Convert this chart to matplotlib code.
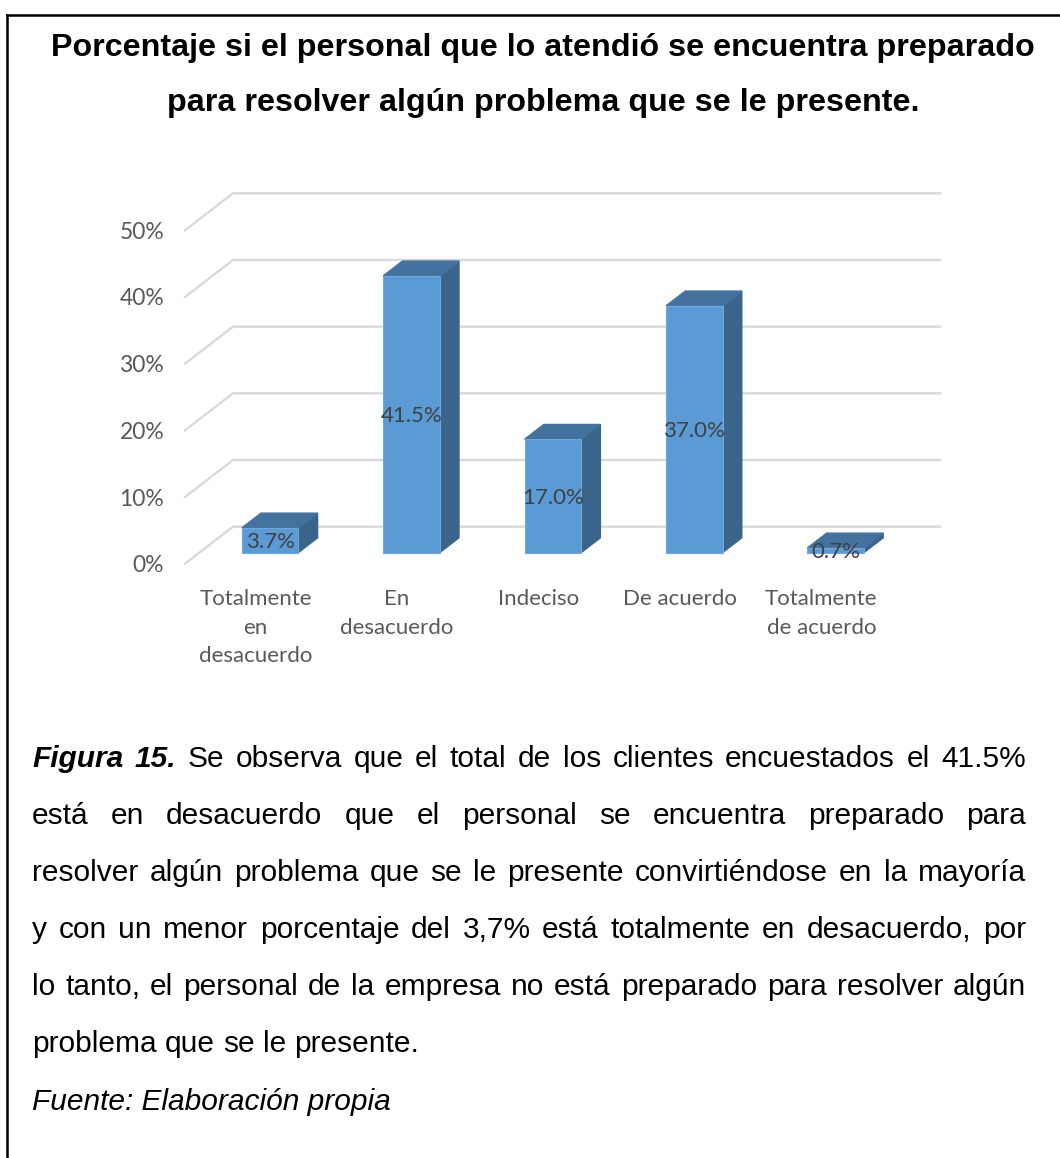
import matplotlib
matplotlib.use("Agg")
import matplotlib.pyplot as plt
from matplotlib.patches import Polygon
from matplotlib.lines import Line2D

# datos de la encuesta
categorias = ["Totalmente\nen\ndesacuerdo", "En\ndesacuerdo", "Indeciso",
              "De acuerdo", "Totalmente\nde acuerdo"]
porcentajes = [3.7, 41.5, 17.0, 37.0, 0.7]
niveles = [0, 10, 20, 30, 40, 50]
etiquetas_y = ["0%", "10%", "20%", "30%", "40%", "50%"]

titulo = ["Porcentaje si el personal que lo atendió se encuentra preparado",
          "para resolver algún problema que se le presente."]

parrafo = [
    "Figura 15. Se observa que el total de los clientes encuestados el 41.5%",
    "está en desacuerdo que el personal se encuentra preparado para",
    "resolver algún problema que se le presente convirtiéndose en la mayoría",
    "y con un menor porcentaje del 3,7% está totalmente en desacuerdo, por",
    "lo tanto, el personal de la empresa no está preparado para resolver algún",
    "problema que se le presente.",
]
fuente = "Fuente: Elaboración propia"

W, H = 1060, 1158
fig = plt.figure(figsize=(W / 100, H / 100), dpi=100)
fig.patch.set_facecolor("white")

# marco (solo arriba e izquierda)
fig.add_artist(Line2D([7 / W, 1], [1 - 15 / H, 1 - 15 / H], color="black", lw=1.8))
fig.add_artist(Line2D([7 / W, 7 / W], [0, 1 - 15 / H], color="black", lw=1.8))

# titulo
for k, linea in enumerate(titulo):
    fig.text(543 / W, 1 - (56 + 54.5 * k) / H, linea, ha="center", va="baseline",
             fontsize=23.2, fontweight="bold", family="Liberation Sans")

# ---- grafico de barras con efecto 3D ----
ax = fig.add_axes([185 / W, 1 - 563.7 / H, 707 / W, 333.4 / H])
ax.set_xlim(-0.5, 4.5)
ax.set_ylim(0, 50)
for s in ax.spines.values():
    s.set_visible(False)

ddx, ddy = 0.3395, 5.55      # desplazamiento de profundidad (piso completo)
f0, fd = 0.3, 0.4            # posicion y grosor de la barra en profundidad
ancho = 0.4

# lineas de cuadricula: pared izquierda + pared del fondo
for v in niveles:
    ax.plot([-0.5, -0.5 + ddx, 4.5 + ddx], [v, v + ddy, v + ddy],
            color="#D9D9D9", lw=1.7, clip_on=False, zorder=1)

c_frente, c_arriba, c_lado = "#5B9BD5", "#44729F", "#3A6489"
for i, v in enumerate(porcentajes):
    xc = i + f0 * ddx
    y0 = f0 * ddy
    xl, xr = xc - ancho / 2, xc + ancho / 2
    sx, sy = fd * ddx, fd * ddy
    ax.bar(xc, v, bottom=y0, width=ancho, color=c_frente,
           edgecolor="#6FA8DC", lw=0.8, zorder=3)
    ax.add_patch(Polygon([(xr, y0), (xr, y0 + v), (xr + sx, y0 + v + sy), (xr + sx, y0 + sy)],
                         closed=True, color=c_lado, zorder=2, clip_on=False))
    ax.add_patch(Polygon([(xl, y0 + v), (xr, y0 + v), (xr + sx, y0 + v + sy), (xl + sx, y0 + v + sy)],
                         closed=True, color=c_arriba, zorder=2, clip_on=False))
    ax.text(xc, y0 + v / 2, f"{v:.1f}%", ha="center", va="center_baseline",
            fontsize=16, color="#404040", family="Lato", zorder=5)

ax.set_yticks(niveles)
ax.set_yticklabels(etiquetas_y, family="Lato", fontsize=16.5, color="#595959",
                   va="center_baseline")
ax.set_xticks(range(len(categorias)))
ax.set_xticklabels(categorias, family="Lato", fontsize=16, color="#595959",
                   linespacing=1.55)
ax.tick_params(axis="y", length=0, pad=15)
ax.tick_params(axis="x", length=0, pad=18)

# ---- parrafo justificado ----
r = fig.canvas.get_renderer()
izq, der = 32, 1026
fs = 21.5


def ancho_px(txt, **kw):
    t = fig.text(0, 0, txt, fontsize=fs, family="Liberation Sans", **kw)
    w = t.get_window_extent(r).width
    t.remove()
    return w


for k, linea in enumerate(parrafo):
    base = 1 - (767 + 57 * k) / H
    palabras = linea.split(" ")
    estilos = []
    for j, p in enumerate(palabras):
        if k == 0 and j < 2:
            estilos.append(dict(fontweight="bold", style="italic"))
        else:
            estilos.append({})
    anchos = [ancho_px(p, **e) for p, e in zip(palabras, estilos)]
    if k < len(parrafo) - 1:
        hueco = (der - izq - sum(anchos)) / (len(palabras) - 1)
    else:
        hueco = ancho_px("a b") - ancho_px("ab")
    x = izq
    for p, e, w in zip(palabras, estilos, anchos):
        fig.text(x / W, base, p, ha="left", va="baseline", fontsize=fs,
                 family="Liberation Sans", **e)
        x += w + hueco

fig.text(izq / W, 1 - 1110 / H, fuente, ha="left", va="baseline", fontsize=fs,
         family="Liberation Sans", style="italic")

fig.savefig("out.png", dpi=100)
